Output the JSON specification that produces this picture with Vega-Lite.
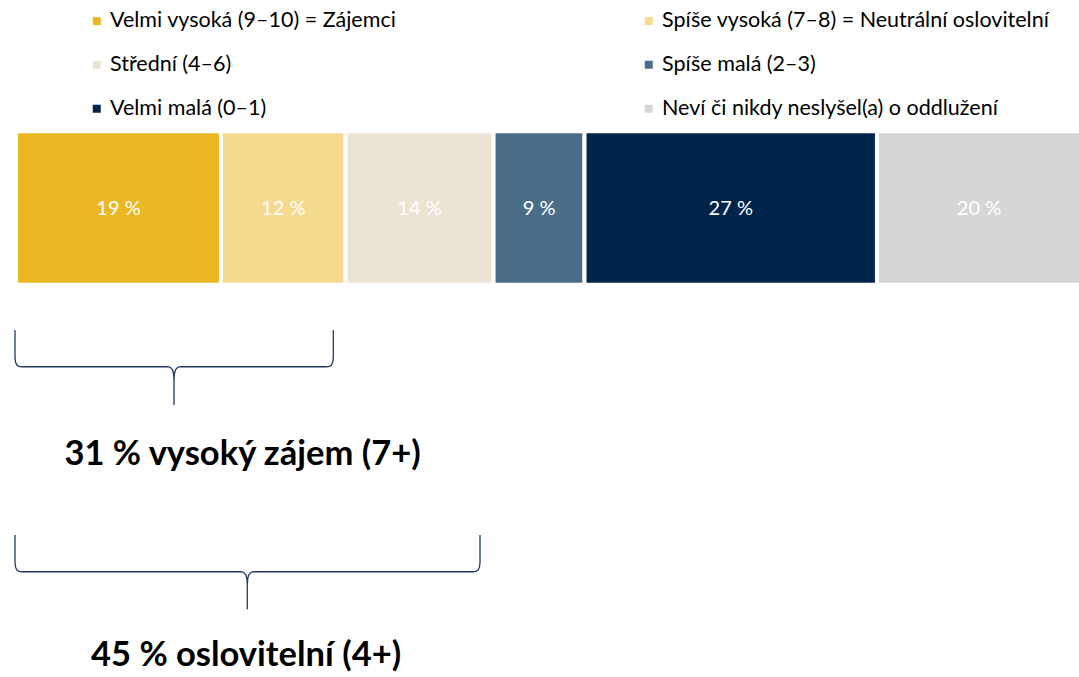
{
  "$schema": "https://vega.github.io/schema/vega-lite/v6.json",
  "width": 1079,
  "height": 677,
  "autosize": {"type": "fit", "contains": "padding"},
  "padding": 0,
  "background": "white",
  "config": {"view": {"stroke": null}, "font": "Lato"},
  "datasets": {
    "segments": [
      {"order": 1, "category": "Velmi vysoká (9–10) = Zájemci", "value": 19.25, "label": "19 %"},
      {"order": 2, "category": "Spíše vysoká (7–8) = Neutrální oslovitelní", "value": 11.69, "label": "12 %"},
      {"order": 3, "category": "Střední (4–6)", "value": 13.9, "label": "14 %"},
      {"order": 4, "category": "Spíše malá (2–3)", "value": 8.54, "label": "9 %"},
      {"order": 5, "category": "Velmi malá (0–1)", "value": 27.46, "label": "27 %"},
      {"order": 6, "category": "Neví či nikdy neslyšel(a) o oddlužení", "value": 19.16, "label": "20 %"}
    ],
    "braces": [
      {"brace": "7+", "i": 0, "x": -0.094, "y": 48.74},
      {"brace": "7+", "i": 1, "x": -0.094, "y": 52.84},
      {"brace": "7+", "i": 2, "x": -0.038, "y": 53.5},
      {"brace": "7+", "i": 3, "x": 0.094, "y": 53.94},
      {"brace": "7+", "i": 4, "x": 0.282, "y": 54.12},
      {"brace": "7+", "i": 5, "x": 0.563, "y": 54.17},
      {"brace": "7+", "i": 6, "x": 14.272, "y": 54.17},
      {"brace": "7+", "i": 7, "x": 14.507, "y": 54.28},
      {"brace": "7+", "i": 8, "x": 14.695, "y": 54.61},
      {"brace": "7+", "i": 9, "x": 14.798, "y": 55.2},
      {"brace": "7+", "i": 10, "x": 14.836, "y": 56.09},
      {"brace": "7+", "i": 11, "x": 14.836, "y": 59.82},
      {"brace": "7+", "i": 12, "x": 14.836, "y": 56.09},
      {"brace": "7+", "i": 13, "x": 14.873, "y": 55.2},
      {"brace": "7+", "i": 14, "x": 14.977, "y": 54.61},
      {"brace": "7+", "i": 15, "x": 15.164, "y": 54.28},
      {"brace": "7+", "i": 16, "x": 15.399, "y": 54.17},
      {"brace": "7+", "i": 17, "x": 29.136, "y": 54.17},
      {"brace": "7+", "i": 18, "x": 29.418, "y": 54.12},
      {"brace": "7+", "i": 19, "x": 29.606, "y": 53.94},
      {"brace": "7+", "i": 20, "x": 29.737, "y": 53.5},
      {"brace": "7+", "i": 21, "x": 29.793, "y": 52.84},
      {"brace": "7+", "i": 22, "x": 29.793, "y": 48.74},
      {"brace": "4+", "i": 0, "x": -0.094, "y": 79.03},
      {"brace": "4+", "i": 1, "x": -0.094, "y": 83.12},
      {"brace": "4+", "i": 2, "x": -0.038, "y": 83.78},
      {"brace": "4+", "i": 3, "x": 0.094, "y": 84.22},
      {"brace": "4+", "i": 4, "x": 0.282, "y": 84.4},
      {"brace": "4+", "i": 5, "x": 0.563, "y": 84.45},
      {"brace": "4+", "i": 6, "x": 21.155, "y": 84.45},
      {"brace": "4+", "i": 7, "x": 21.39, "y": 84.56},
      {"brace": "4+", "i": 8, "x": 21.577, "y": 84.89},
      {"brace": "4+", "i": 9, "x": 21.681, "y": 85.48},
      {"brace": "4+", "i": 10, "x": 21.718, "y": 86.37},
      {"brace": "4+", "i": 11, "x": 21.718, "y": 90.0},
      {"brace": "4+", "i": 12, "x": 21.718, "y": 86.37},
      {"brace": "4+", "i": 13, "x": 21.756, "y": 85.48},
      {"brace": "4+", "i": 14, "x": 21.859, "y": 84.89},
      {"brace": "4+", "i": 15, "x": 22.047, "y": 84.56},
      {"brace": "4+", "i": 16, "x": 22.282, "y": 84.45},
      {"brace": "4+", "i": 17, "x": 42.911, "y": 84.45},
      {"brace": "4+", "i": 18, "x": 43.192, "y": 84.4},
      {"brace": "4+", "i": 19, "x": 43.38, "y": 84.22},
      {"brace": "4+", "i": 20, "x": 43.512, "y": 83.78},
      {"brace": "4+", "i": 21, "x": 43.568, "y": 83.12},
      {"brace": "4+", "i": 22, "x": 43.568, "y": 79.03}
    ]
  },
  "layer": [
    {
      "data": {"name": "segments"},
      "transform": [
        {"stack": "value", "groupby": [], "sort": [{"field": "order", "order": "ascending"}], "as": ["x0", "x1"]}
      ],
      "mark": {"type": "bar", "stroke": "white", "strokeWidth": 4, "clip": true},
      "encoding": {
        "x": {"field": "x0", "type": "quantitative", "scale": {"domain": [-1.502, 99.81], "nice": false, "zero": false}, "axis": null},
        "x2": {"field": "x1"},
        "y": {"datum": 19.39, "type": "quantitative", "scale": {"domain": [0, 100], "reverse": true, "nice": false, "zero": false}, "axis": null},
        "y2": {"datum": 42.05},
        "color": {
          "field": "category",
          "type": "nominal",
          "scale": {
            "domain": [
              "Velmi vysoká (9–10) = Zájemci",
              "Střední (4–6)",
              "Velmi malá (0–1)",
              "Spíše vysoká (7–8) = Neutrální oslovitelní",
              "Spíše malá (2–3)",
              "Neví či nikdy neslyšel(a) o oddlužení"
            ],
            "range": ["#EBB823", "#EBE4D3", "#00244A", "#F5DA8E", "#4B6E88", "#D6D6D6"]
          },
          "legend": {
            "title": null,
            "orient": "none",
            "legendX": 86,
            "legendY": 10,
            "columns": 2,
            "columnPadding": 241,
            "rowPadding": 21,
            "symbolType": "square",
            "symbolSize": 64,
            "symbolStrokeWidth": 0,
            "symbolOpacity": 1,
            "labelOffset": 2.5,
            "labelFont": "Lato",
            "labelFontSize": 21.5,
            "labelColor": "#000000",
            "labelLimit": 600,
            "padding": 0
          }
        }
      }
    },
    {
      "data": {"name": "segments"},
      "transform": [
        {"stack": "value", "groupby": [], "sort": [{"field": "order", "order": "ascending"}], "as": ["x0", "x1"]},
        {"calculate": "(datum.x0 + datum.x1) / 2", "as": "mid"}
      ],
      "mark": {"type": "text", "color": "white", "font": "Lato", "fontSize": 20, "baseline": "middle", "align": "center"},
      "encoding": {
        "x": {"field": "mid", "type": "quantitative"},
        "y": {"datum": 30.87},
        "text": {"field": "label", "type": "nominal"}
      }
    },
    {
      "data": {"name": "braces"},
      "mark": {"type": "line", "color": "#1F3A5F", "strokeWidth": 1.3, "interpolate": "linear"},
      "encoding": {
        "x": {"field": "x", "type": "quantitative"},
        "y": {"field": "y", "type": "quantitative"},
        "detail": {"field": "brace", "type": "nominal"},
        "order": {"field": "i", "type": "quantitative"}
      }
    },
    {
      "data": {"values": [{"note": "31 % vysoký zájem (7+)"}]},
      "mark": {"type": "text", "font": "Lato", "fontWeight": "bold", "fontSize": 34.5, "color": "#000000", "align": "center", "baseline": "middle"},
      "encoding": {
        "x": {"datum": 21.27},
        "y": {"datum": 67.21},
        "text": {"field": "note", "type": "nominal"}
      }
    },
    {
      "data": {"values": [{"note": "45 % oslovitelní (4+)"}]},
      "mark": {"type": "text", "font": "Lato", "fontWeight": "bold", "fontSize": 34.5, "color": "#000000", "align": "center", "baseline": "middle"},
      "encoding": {
        "x": {"datum": 21.6},
        "y": {"datum": 96.9},
        "text": {"field": "note", "type": "nominal"}
      }
    }
  ]
}
